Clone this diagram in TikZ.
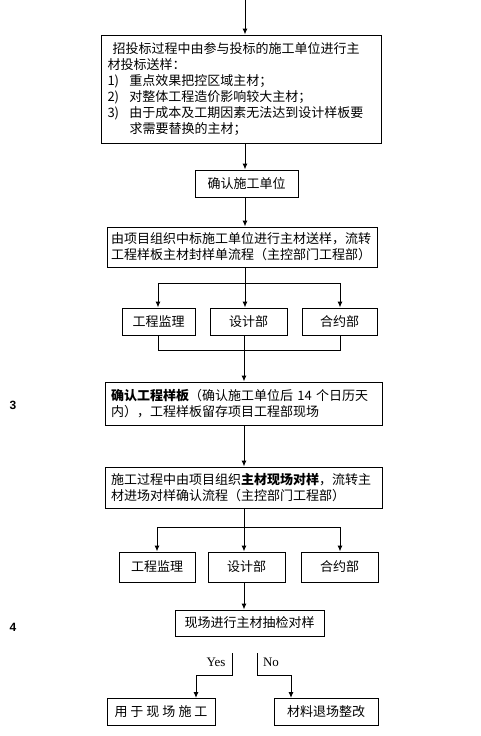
\documentclass[tikz,border=0pt]{standalone}
\usepackage{fontspec}
\setmainfont{Liberation Serif}
\newfontfamily\cjk{Noto Sans CJK SC}
\newfontfamily\lab{Liberation Sans}
\usetikzlibrary{arrows.meta}
\begin{document}
\begin{tikzpicture}[x=1pt,y=-1pt,
  box/.style={draw,line width=1pt,inner sep=0pt,align=center,
    font=\cjk\fontsize{13}{16}\selectfont},
  arr/.style={line width=1pt,-{Latex[length=6pt,width=5pt]}},
  ln/.style={line width=1pt},
  num/.style={font=\lab\bfseries\fontsize{12}{14}\selectfont}]
\useasboundingbox[fill=white] (0,0) rectangle (481,736);

\node[box,minimum width=280pt,minimum height=108pt] (b1) at (241.5,89) {};
\node[font=\cjk\fontsize{13}{16}\selectfont,text width=268pt,align=left,inner sep=0pt] (t1) at (241.5,89)
  {\hspace*{5pt}招投标过程中由参与投标的施工单位进行主\\
   材投标送样：\\
   \makebox[22pt][l]{1)}重点效果把控区域主材；\\
   \makebox[22pt][l]{2)}对整体工程造价影响较大主材；\\
   \makebox[22pt][l]{3)}由于成本及工期因素无法达到设计样板要\\
   \hspace*{22pt}求需要替换的主材；};

\node[box,minimum width=103pt,minimum height=27pt] (b2) at (246.5,183.5) {确认施工单位};

\node[box,minimum width=270pt,minimum height=40pt,text width=262pt,align=left] (b3) at (242,247)
  {由项目组织中标施工单位进行主材送样，流转\\工程样板主材封样单流程（主控部门工程部）};

\node[box,minimum width=73pt,minimum height=27pt] (r1a) at (158.5,321.5) {工程监理};
\node[box,minimum width=77pt,minimum height=27pt] (r1b) at (248.5,321.5) {设计部};
\node[box,minimum width=75pt,minimum height=27pt] (r1c) at (339.5,321.5) {合约部};

\node[box,minimum width=277pt,minimum height=43pt,text width=265pt,align=left] (b4) at (243.5,403.5)
  {{\bfseries 确认工程样板}（确认施工单位后 14 个日历天\\内），工程样板留存项目工程部现场};

\node[box,minimum width=277pt,minimum height=41pt,text width=265pt,align=left] (b5) at (243.5,487.5)
  {施工过程中由项目组织{\bfseries 主材现场对样}，流转主\\材进场对样确认流程（主控部门工程部）};

\node[box,minimum width=76pt,minimum height=30pt] (r2a) at (157,567) {工程监理};
\node[box,minimum width=77pt,minimum height=30pt] (r2b) at (246.5,567) {设计部};
\node[box,minimum width=77pt,minimum height=30pt] (r2c) at (339.5,567) {合约部};

\node[box,minimum width=149pt,minimum height=26pt] (b6) at (249.5,623) {现场进行主材抽检对样};

\node[box,minimum width=108pt,minimum height=27pt] (b7) at (161,711.5) {用\kern3pt 于\kern3pt 现\kern3pt 场\kern3pt 施\kern3pt 工};
\node[box,minimum width=104pt,minimum height=27pt] (b8) at (326,711.5) {材料退场整改};

\node[num] (n3) at (13,405) {3};
\node[num] (n4) at (13,627) {4};

\node[font=\fontsize{13}{15}\selectfont,inner sep=0pt] (yes) at (216,662) {Yes};
\node[font=\fontsize{13}{15}\selectfont,inner sep=0pt] (no) at (271,662) {No};

% coordinates
\coordinate (top) at (245,0);
\coordinate (j1) at (245,283);
\coordinate (m1) at (244,350);
\coordinate (j2) at (244,527);
\coordinate (ja) at (158,0);
\coordinate (jc) at (340,0);
\coordinate (ka) at (157,0);
\coordinate (kc) at (340,0);
\coordinate (y1) at (232,653);
\coordinate (y2) at (232,675);
\coordinate (ya) at (196,698);
\coordinate (n1) at (257,653);
\coordinate (n2) at (257,675);
\coordinate (na) at (291,698);

\draw[arr] (top) -- (top |- b1.north);
\draw[arr] (top |- b1.south) -- (top |- b2.north);
\draw[arr] (top |- b2.south) -- (top |- b3.north);
\draw[ln] (j1 |- b3.south) -- (j1);
\draw[ln] (j1 -| ja) -- (j1 -| jc);
\draw[arr] (j1 -| ja) -- (ja |- r1a.north);
\draw[arr] (j1) -- (j1 |- r1b.north);
\draw[arr] (j1 -| jc) -- (jc |- r1c.north);

\draw[ln] (ja |- r1a.south) -- (m1 -| ja) -- (m1 -| jc) -- (jc |- r1c.south);
\draw[ln] (m1 |- r1b.south) -- (m1);
\draw[arr] (m1) -- (m1 |- b4.north);
\draw[arr] (m1 |- b4.south) -- (m1 |- b5.north);

\draw[ln] (j2 |- b5.south) -- (j2);
\draw[ln] (j2 -| ka) -- (j2 -| kc);
\draw[arr] (j2 -| ka) -- (ka |- r2a.north);
\draw[arr] (j2) -- (j2 |- r2b.north);
\draw[arr] (j2 -| kc) -- (kc |- r2c.north);
\draw[arr] (j2 |- r2b.south) -- (j2 |- b6.north);

\draw[arr] (y1) -- (y2) -| (ya);
\draw[arr] (n1) -- (n2) -| (na);
\end{tikzpicture}
\end{document}
